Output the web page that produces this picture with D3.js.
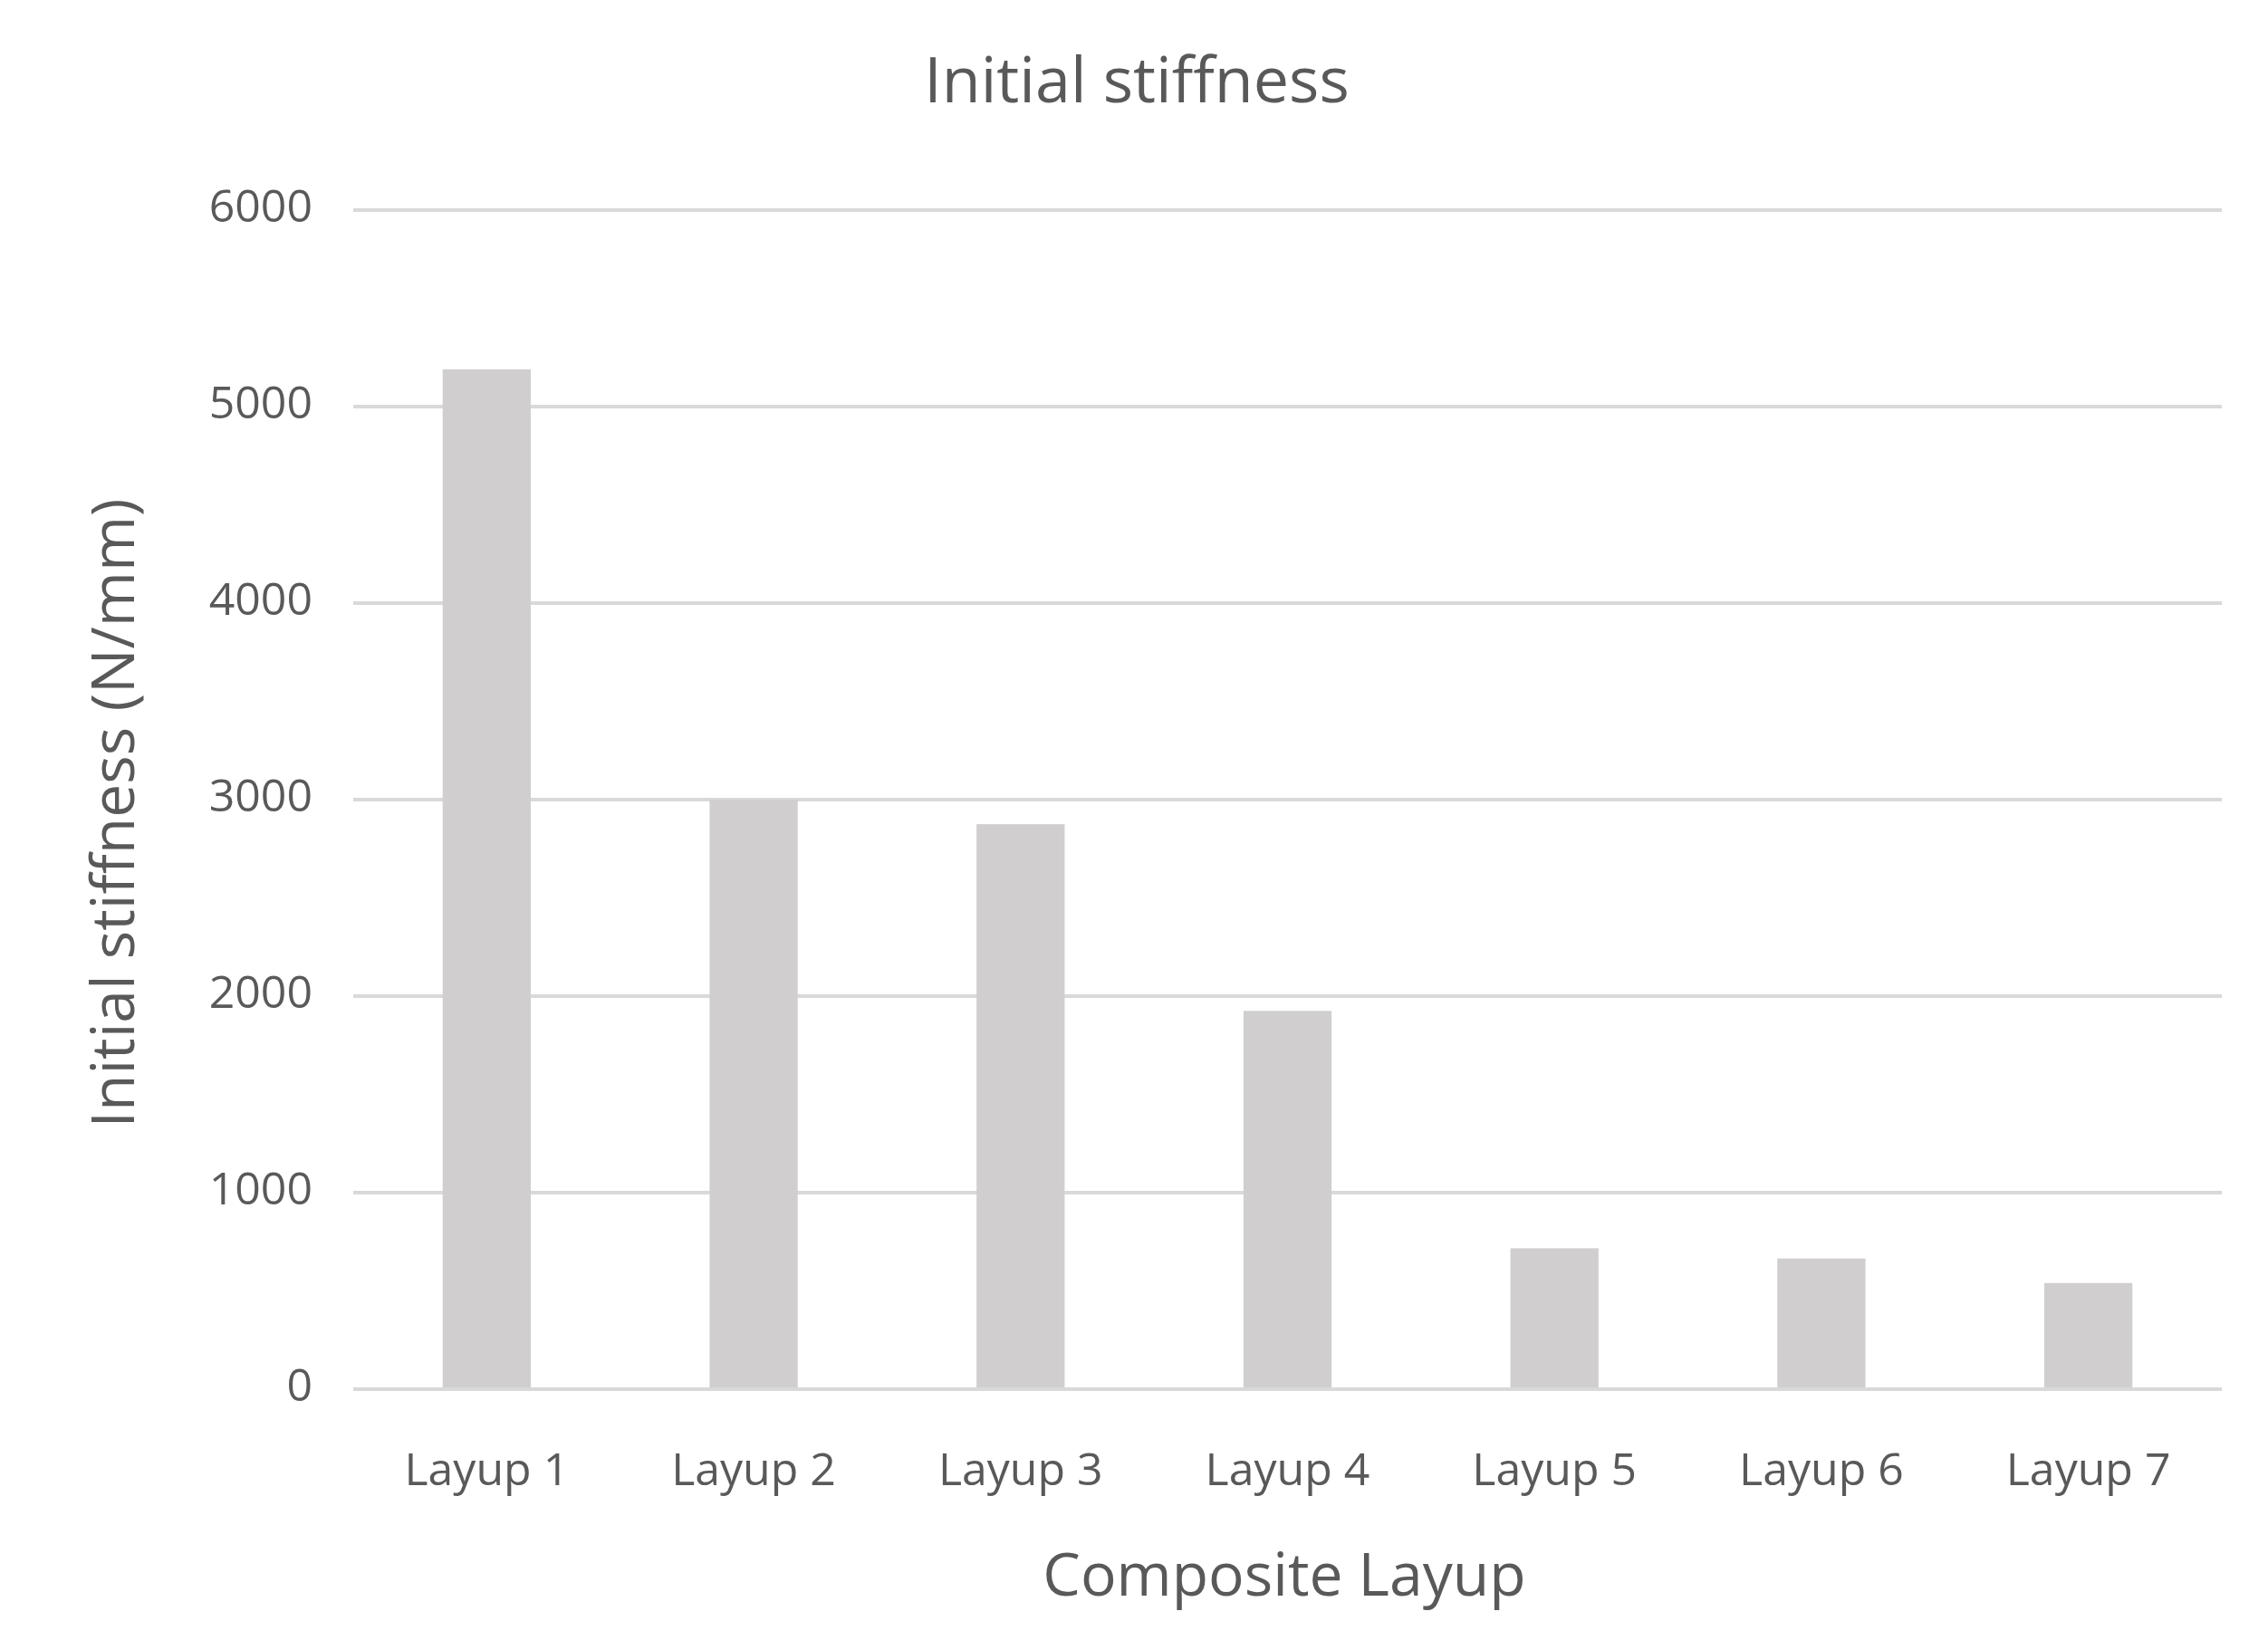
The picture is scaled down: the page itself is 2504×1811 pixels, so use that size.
<!DOCTYPE html>
<html><head><meta charset="utf-8">
<script src="https://cdn.jsdelivr.net/npm/d3@7"></script>
<style>body{margin:0;background:#fff}text{font-family:"Open Sans",sans-serif;fill:#595959}</style>
</head><body>
<svg id="chart" width="2504" height="1811"></svg>
<script>
const categories = ["Layup 1","Layup 2","Layup 3","Layup 4","Layup 5","Layup 6","Layup 7"];
const values = [5190, 3000, 2875, 1925, 717, 665, 540];
const yTicks = [0,1000,2000,3000,4000,5000,6000];

const svg = d3.select('#chart');
const plotLeft = 390, plotRight = 2453, plotTop = 232, plotBottom = 1534;

const x = d3.scaleBand().domain(categories).range([plotLeft, plotRight]).paddingInner(0.67).paddingOuter(0.335);
const y = d3.scaleLinear().domain([0, 6000]).range([plotBottom, plotTop]);

// gridlines
svg.append('g').selectAll('line').data(yTicks).join('line')
    .attr('x1', plotLeft).attr('x2', plotRight)
    .attr('y1', d => y(d)).attr('y2', d => y(d))
    .attr('stroke', '#d9d9d9').attr('stroke-width', 4);

svg.append('g').selectAll('text').data(yTicks).join('text')
    .attr('x', plotLeft - 45).attr('y', d => y(d))
    .attr('text-anchor', 'end').attr('dominant-baseline', 'middle')
    .attr('font-size', 50).text(d => d);

svg.append('g').selectAll('rect').data(values).join('rect')
    .attr('x', (d, i) => x(categories[i]))
    .attr('width', x.bandwidth())
    .attr('y', d => y(d))
    .attr('height', d => y(0) - y(d))
    .attr('fill', '#d0cece');

// baseline on top of bars
svg.append('line').attr('x1', plotLeft).attr('x2', plotRight).attr('y1', y(0)).attr('y2', y(0))
    .attr('stroke', '#d9d9d9').attr('stroke-width', 4);

svg.append('g').selectAll('text').data(categories).join('text')
    .attr('x', d => x(d) + x.bandwidth() / 2).attr('y', 1640)
    .attr('text-anchor', 'middle').attr('font-size', 50).text(d => d);

svg.append('text').attr('x', 1255).attr('y', 113).attr('text-anchor', 'middle')
    .attr('font-size', 70).text('Initial stiffness');

svg.append('text').attr('x', 1418).attr('y', 1762).attr('text-anchor', 'middle')
    .attr('font-size', 66).text('Composite Layup');

svg.append('text').attr('transform', `translate(148, ${(plotTop + plotBottom) / 2 + 15}) rotate(-90)`)
    .attr('text-anchor', 'middle').attr('font-size', 66).text('Initial stiffness (N/mm)');
</script>
</body></html>
